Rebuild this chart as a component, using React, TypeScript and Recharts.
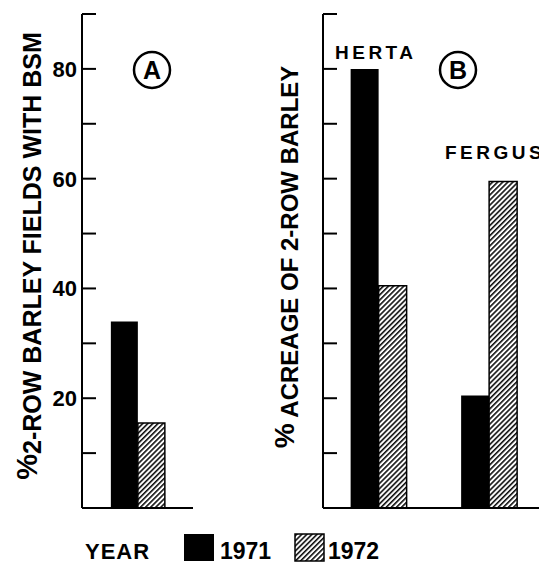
import React from 'react'
import { BarChart, Bar, XAxis, YAxis } from 'recharts'

// panel A: fields with BSM
const panelACategories = ['A']
const panelA1971 = [34]
const panelA1972 = [15.5]

// panel B: acreage by cultivar
const cultivars = ['HERTA', 'FERGUS']
const cultivar1971 = [80, 20.5]
const cultivar1972 = [40.5, 59.5]

const years = ['1971', '1972']
const yTicks = [0, 10, 20, 30, 40, 50, 60, 70, 80, 90]
const labelledTicks = [20, 40, 60, 80]

const FONT = '"Liberation Sans", Arial, Helvetica, sans-serif'

const dataA = panelACategories.map((name, i) => ({
  name,
  y1971: panelA1971[i],
  y1972: panelA1972[i],
}))

const dataB = cultivars.map((name, i) => ({
  name,
  y1971: cultivar1971[i],
  y1972: cultivar1972[i],
}))

// ticks point into the plot, labels sit left of the axis
function InwardTick(props: any) {
  const { x, y, payload, showLabels } = props
  const v = payload.value
  return (
    <g>
      {v !== 0 && <line x1={x} y1={y} x2={x + 14} y2={y} stroke="#000" strokeWidth={2} />}
      {showLabels && labelledTicks.includes(v) && (
        <text
          x={x - 5}
          y={y}
          dy="0.36em"
          textAnchor="end"
          fontFamily={FONT}
          fontWeight="bold"
          fontSize={22}
          fill="#000"
        >
          {v}
        </text>
      )}
    </g>
  )
}

function HatchPattern({ id }: { id: string }) {
  return (
    <pattern id={id} width={3.6} height={3.6} patternUnits="userSpaceOnUse" patternTransform="rotate(45)">
      <rect width={3.6} height={3.6} fill="#fff" />
      <line x1={0.8} y1={0} x2={0.8} y2={3.6} stroke="#000" strokeWidth={1.5} />
    </pattern>
  )
}

function Panel({
  data,
  id,
  width,
  left,
  showLabels,
  gap,
}: {
  data: any[]
  id: string
  width: number
  left: number
  showLabels: boolean
  gap: string
}) {
  return (
    <BarChart
      width={width}
      height={564}
      data={data}
      margin={{ top: 14, right: 0, bottom: 55, left: left - 1 }}
      barGap={0}
      barCategoryGap={gap}
    >
      <defs>
        <HatchPattern id={id} />
      </defs>
      <XAxis
        dataKey="name"
        tick={false}
        tickLine={false}
        height={1}
        axisLine={{ stroke: '#000', strokeWidth: 2 }}
      />
      <YAxis
        type="number"
        domain={[0, 90]}
        allowDataOverflow
        ticks={yTicks}
        interval={0}
        width={1}
        tickSize={0}
        tickMargin={0}
        tickLine={false}
        axisLine={{ stroke: '#000', strokeWidth: 2 }}
        tick={(p: any) => <InwardTick {...p} showLabels={showLabels} />}
      />
      <Bar dataKey="y1971" name={years[0]} fill="#000" isAnimationActive={false} />
      <Bar
        dataKey="y1972"
        name={years[1]}
        fill={`url(#${id})`}
        stroke="#000"
        strokeWidth={1.5}
        isAnimationActive={false}
      />
    </BarChart>
  )
}

const textStyle = { fontFamily: FONT, fontWeight: 'bold' as const, fill: '#000' }

export default function App() {
  return (
    <div
      style={{
        position: 'absolute',
        left: 0,
        top: 0,
        width: 539,
        height: 564,
        overflow: 'hidden',
        background: '#fff',
      }}
    >
      <div style={{ position: 'absolute', left: 0, top: 0 }}>
        <Panel data={dataA} id="hatchA" width={193} left={82} showLabels gap="26%" />
      </div>
      <div style={{ position: 'absolute', left: 200, top: 0 }}>
        <Panel data={dataB} id="hatchB" width={344} left={123} showLabels={false} gap="25%" />
      </div>
      <svg
        width={539}
        height={564}
        style={{ position: 'absolute', left: 0, top: 0, pointerEvents: 'none' }}
      >
        <defs>
          <HatchPattern id="hatchL" />
        </defs>
        {/* axis titles */}
        <text
          x={41}
          y={256}
          transform="rotate(-90, 41, 256)"
          textAnchor="middle"
          fontSize={25}
          {...textStyle}
        >
          <tspan fontSize={29} dy={-4}>%</tspan>
          <tspan dy={4}>2-ROW BARLEY FIELDS WITH BSM</tspan>
        </text>
        <text
          x={298}
          y={257}
          transform="rotate(-90, 298, 257)"
          textAnchor="middle"
          fontSize={24}
          {...textStyle}
        >
          <tspan fontSize={28} dy={-4}>%</tspan>
          <tspan dy={4}> ACREAGE OF 2-ROW BARLEY</tspan>
        </text>

        {/* panel marks */}
        <circle cx={152} cy={70} r={18} fill="none" stroke="#000" strokeWidth={2.5} />
        <text x={152} y={79} textAnchor="middle" fontSize={25} {...textStyle}>A</text>
        <circle cx={458} cy={70} r={18} fill="none" stroke="#000" strokeWidth={2.5} />
        <text x={458} y={79} textAnchor="middle" fontSize={25} {...textStyle}>B</text>

        {/* cultivar names */}
        <text x={335} y={59} fontSize={19} letterSpacing={3.5} {...textStyle}>{cultivars[0]}</text>
        <text x={445} y={159} fontSize={19} letterSpacing={3.5} {...textStyle}>{cultivars[1]}</text>

        {/* legend */}
        <text x={85} y={559} fontSize={22} letterSpacing={1} {...textStyle}>YEAR</text>
        <rect x={184} y={534} width={30} height={27} fill="#000" />
        <text x={220} y={559} fontSize={23} {...textStyle}>{years[0]}</text>
        <rect x={295} y={534} width={29} height={27} fill="url(#hatchL)" stroke="#000" strokeWidth={1.5} />
        <text x={328} y={559} fontSize={23} {...textStyle}>{years[1]}</text>
      </svg>
    </div>
  )
}
